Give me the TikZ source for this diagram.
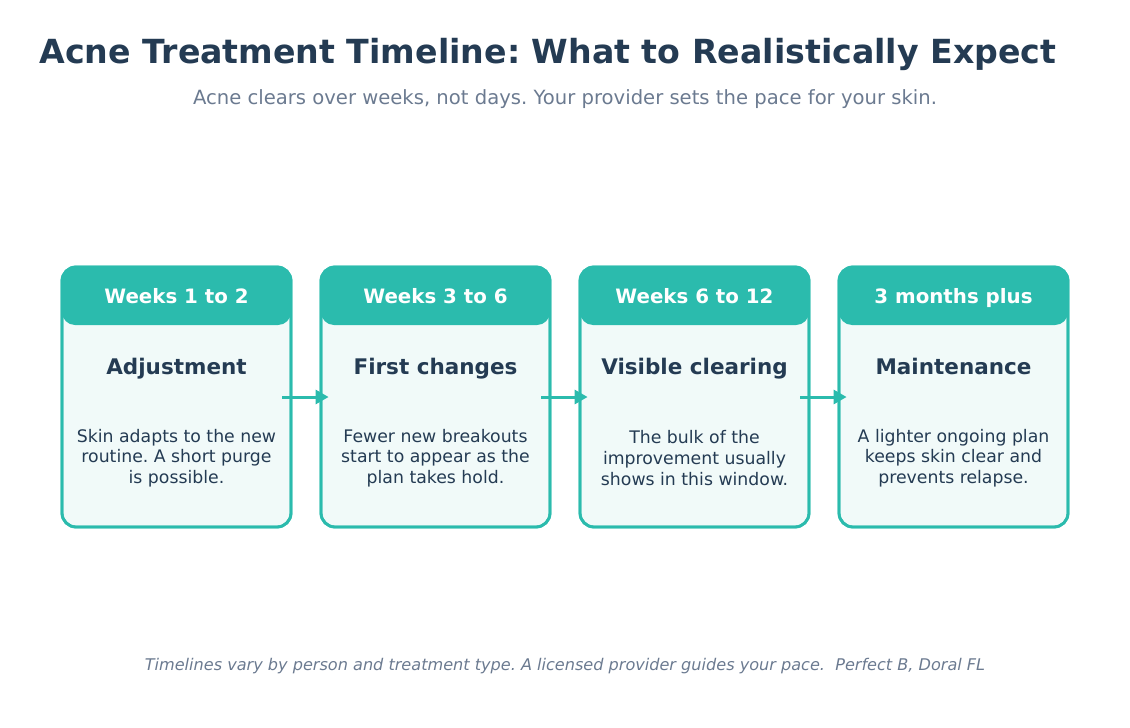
\documentclass[tikz,border=0pt]{standalone}
\usepackage{fontspec}
\setmainfont{DejaVu Sans}
\usetikzlibrary{arrows.meta}
\definecolor{teal1}{HTML}{2BBBAD}
\definecolor{paper}{HTML}{F1FAF9}
\definecolor{navy}{HTML}{243B53}
\definecolor{slate}{HTML}{6B7A90}
\frenchspacing
\tikzset{
  card/.style={draw=teal1, line width=2.8pt, fill=paper, rounded corners=14pt, minimum width=229pt, minimum height=260pt, inner sep=0pt},
  cardline/.style={draw=teal1, line width=2.8pt, rounded corners=14pt, minimum width=229pt, minimum height=260pt, inner sep=0pt},
  head/.style={fill=teal1, rounded corners=13pt, minimum width=229pt, minimum height=58pt, inner sep=0pt},
  htext/.style={text=white, inner sep=0pt, text height=0.73em, text depth=0.02em, font=\bfseries\fontsize{19.8}{24}\selectfont},
  ctitle/.style={text=navy, inner sep=0pt, text height=0.73em, text depth=0.02em, font=\bfseries\fontsize{21.5}{25}\selectfont},
  cbody/.style={text=navy, align=center, font=\fontsize{17.3}{20.7}\selectfont},
  flow/.style={draw=teal1, line width=3pt, -{Triangle[length=13pt,width=14pt]}}
}
\begin{document}
\begin{tikzpicture}[x=1pt,y=-1pt]
\useasboundingbox (0,0) rectangle (1130,728);
\node[text=navy, inner sep=0pt, text height=0.73em, text depth=0.02em, font=\bfseries\fontsize{33.2}{38}\selectfont] (title) at (548,60) {Acne Treatment Timeline: What to Realistically Expect};
\node[text=slate, inner sep=0pt, text height=0.73em, text depth=0.2em, font=\fontsize{19.6}{23}\selectfont] (sub) at (565,102) {Acne clears over weeks, not days. Your provider sets the pace for your skin.};
\foreach \i/\x/\h/\t/\b in {
  1/176.5/Weeks 1 to 2/Adjustment/{Skin adapts to the new\\routine. A short purge\\is possible.},
  2/435.5/Weeks 3 to 6/First changes/{Fewer new breakouts\\start to appear as the\\plan takes hold.},
  3/694.5/Weeks 6 to 12/Visible clearing/{The bulk of the\\improvement usually\\shows in this window.},
  4/953.5/3 months plus/Maintenance/{A lighter ongoing plan\\keeps skin clear and\\prevents relapse.}} {
  \node[card] (b\i) at (\x,397) {};
  \node[head] (h\i) at (\x,296) {};
  \node[cardline] (o\i) at (\x,397) {};
  \node[htext] (l\i) at (\x,300) {\h};
  \node[ctitle] (t\i) at (\x,371) {\t};
  \node[cbody] (d\i) at (\x,458) {\b};
}
\draw[flow] ([xshift=-10pt]b1.east) -- ([xshift=9pt]b2.west);
\draw[flow] ([xshift=-10pt]b2.east) -- ([xshift=9pt]b3.west);
\draw[flow] ([xshift=-10pt]b3.east) -- ([xshift=9pt]b4.west);
\node[text=slate, inner sep=0pt, text height=0.73em, text depth=0.2em, font=\itshape\fontsize{16.1}{19}\selectfont] (foot) at (565,668) {Timelines vary by person and treatment type. A licensed provider guides your pace.\ \ Perfect B, Doral FL};
\end{tikzpicture}
\end{document}
